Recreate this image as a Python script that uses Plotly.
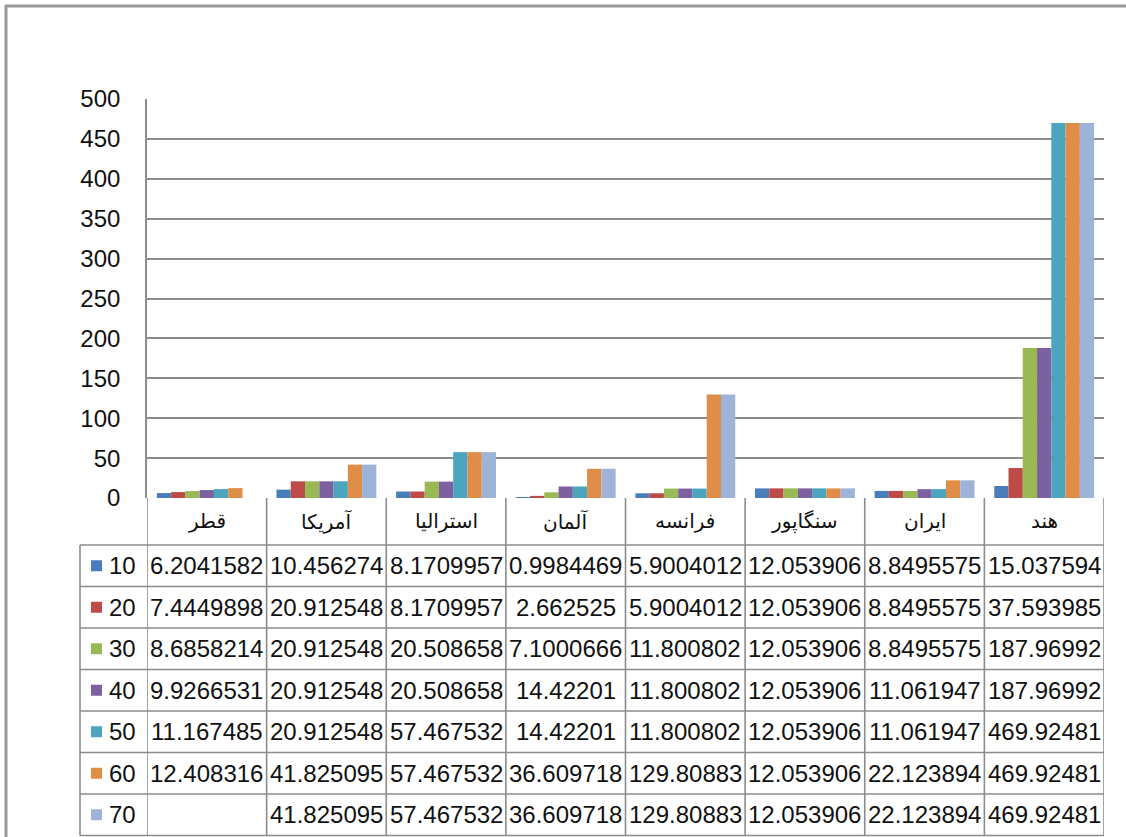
import plotly.graph_objects as go

categories = ['قطر', 'آمریکا', 'استرالیا', 'آلمان', 'فرانسه', 'سنگاپور', 'ایران', 'هند']
series_names = ['10', '20', '30', '40', '50', '60', '70']
s10 = [6.2041582, 10.456274, 8.1709957, 0.9984469, 5.9004012, 12.053906, 8.8495575, 15.037594]
s20 = [7.4449898, 20.912548, 8.1709957, 2.662525, 5.9004012, 12.053906, 8.8495575, 37.593985]
s30 = [8.6858214, 20.912548, 20.508658, 7.1000666, 11.800802, 12.053906, 8.8495575, 187.96992]
s40 = [9.9266531, 20.912548, 20.508658, 14.42201, 11.800802, 12.053906, 11.061947, 187.96992]
s50 = [11.167485, 20.912548, 57.467532, 14.42201, 11.800802, 12.053906, 11.061947, 469.92481]
s60 = [12.408316, 41.825095, 57.467532, 36.609718, 129.80883, 12.053906, 22.123894, 469.92481]
s70 = [None, 41.825095, 57.467532, 36.609718, 129.80883, 12.053906, 22.123894, 469.92481]
series_values = [s10, s20, s30, s40, s50, s60, s70]
y_ticks = [0, 50, 100, 150, 200, 250, 300, 350, 400, 450, 500]

colors = ['#4a7ebb', '#be4b48', '#98b954', '#7d60a0', '#4ba5be', '#e08d48', '#9db3d8']

W, H = 1126, 837
L, R, T, B = 147, 22, 99, 339
PW = W - L - R
PH = H - T - B
GRID = '#8c8c8c'
FONT = 'Liberation Sans'


def px_x(x):
    return (x - L) / PW


def px_y(y):
    return (H - B - y) / PH


fig = go.Figure()
xs = list(range(len(categories)))
for name, vals, c in zip(series_names, series_values, colors):
    fig.add_trace(go.Bar(x=xs, y=vals, name=name, marker=dict(color=c, line=dict(width=0)),
                         showlegend=False))

shapes = []
annotations = []

# outer chart frame
shapes.append(dict(type='line', xref='paper', yref='paper', x0=px_x(5), x1=px_x(W + 5),
                   y0=px_y(6), y1=px_y(6), line=dict(color='#9a9a9a', width=3)))
shapes.append(dict(type='line', xref='paper', yref='paper', x0=px_x(6), x1=px_x(6),
                   y0=px_y(5), y1=px_y(H + 5), line=dict(color='#9a9a9a', width=3)))

# data table geometry
row_top = 545.0
row_h = 41.5
n_rows = len(series_names)
table_bottom = row_top + row_h * n_rows
line_style = dict(color=GRID, width=1.6)

for r in range(n_rows + 1):
    y = row_top + row_h * r
    shapes.append(dict(type='line', xref='paper', yref='paper', x0=px_x(80), x1=1,
                       y0=px_y(y), y1=px_y(y), line=line_style))
for i in range(len(categories) + 1):
    shapes.append(dict(type='line', xref='x', yref='paper', x0=i - 0.5, x1=i - 0.5,
                       y0=0, y1=px_y(table_bottom), line=line_style))
shapes.append(dict(type='line', xref='paper', yref='paper', x0=px_x(80), x1=px_x(80),
                   y0=px_y(row_top), y1=px_y(table_bottom), line=line_style))

for i, c in enumerate(categories):
    annotations.append(dict(x=i, y=px_y(521), xref='x', yref='paper', text=c, showarrow=False,
                            font=dict(family='DejaVu Sans', size=20, color='#111'),
                            xanchor='center', yanchor='middle'))

for r, (name, vals, c) in enumerate(zip(series_names, series_values, colors)):
    yc = row_top + row_h * (r + 0.5)
    shapes.append(dict(type='rect', xref='paper', yref='paper', x0=px_x(91), x1=px_x(102),
                       y0=px_y(yc - 5.5), y1=px_y(yc + 5.5), fillcolor=c, line=dict(width=0)))
    annotations.append(dict(x=px_x(107), y=px_y(yc), xref='paper', yref='paper', text=name,
                            showarrow=False, font=dict(family=FONT, size=24, color='#111'),
                            xanchor='left', yanchor='middle'))
    for i, v in enumerate(vals):
        if v is None:
            continue
        annotations.append(dict(x=i, y=px_y(yc), xref='x', yref='paper', text=str(v),
                                showarrow=False, font=dict(family=FONT, size=24, color='#111'),
                                xanchor='center', yanchor='middle'))

fig.update_layout(
    width=W, height=H,
    margin=dict(l=L, r=R, t=T, b=B),
    paper_bgcolor='white', plot_bgcolor='white',
    barmode='group', bargap=0.165, bargroupgap=0,
    shapes=shapes, annotations=annotations,
    xaxis=dict(range=[-0.5, len(categories) - 0.5], showticklabels=False, showgrid=False,
               zeroline=False, showline=False, ticks=''),
    yaxis=dict(range=[0, 500], tickvals=y_ticks, showgrid=True, gridcolor=GRID, gridwidth=1.6,
               zeroline=False, showline=True, linecolor=GRID, linewidth=1.6, ticks='',
               tickfont=dict(family=FONT, size=24, color='#111'), ticklabelstandoff=20),
)

fig.write_html('out.html', config={'displayModeBar': False},
               post_script="document.body.style.margin='0';")
